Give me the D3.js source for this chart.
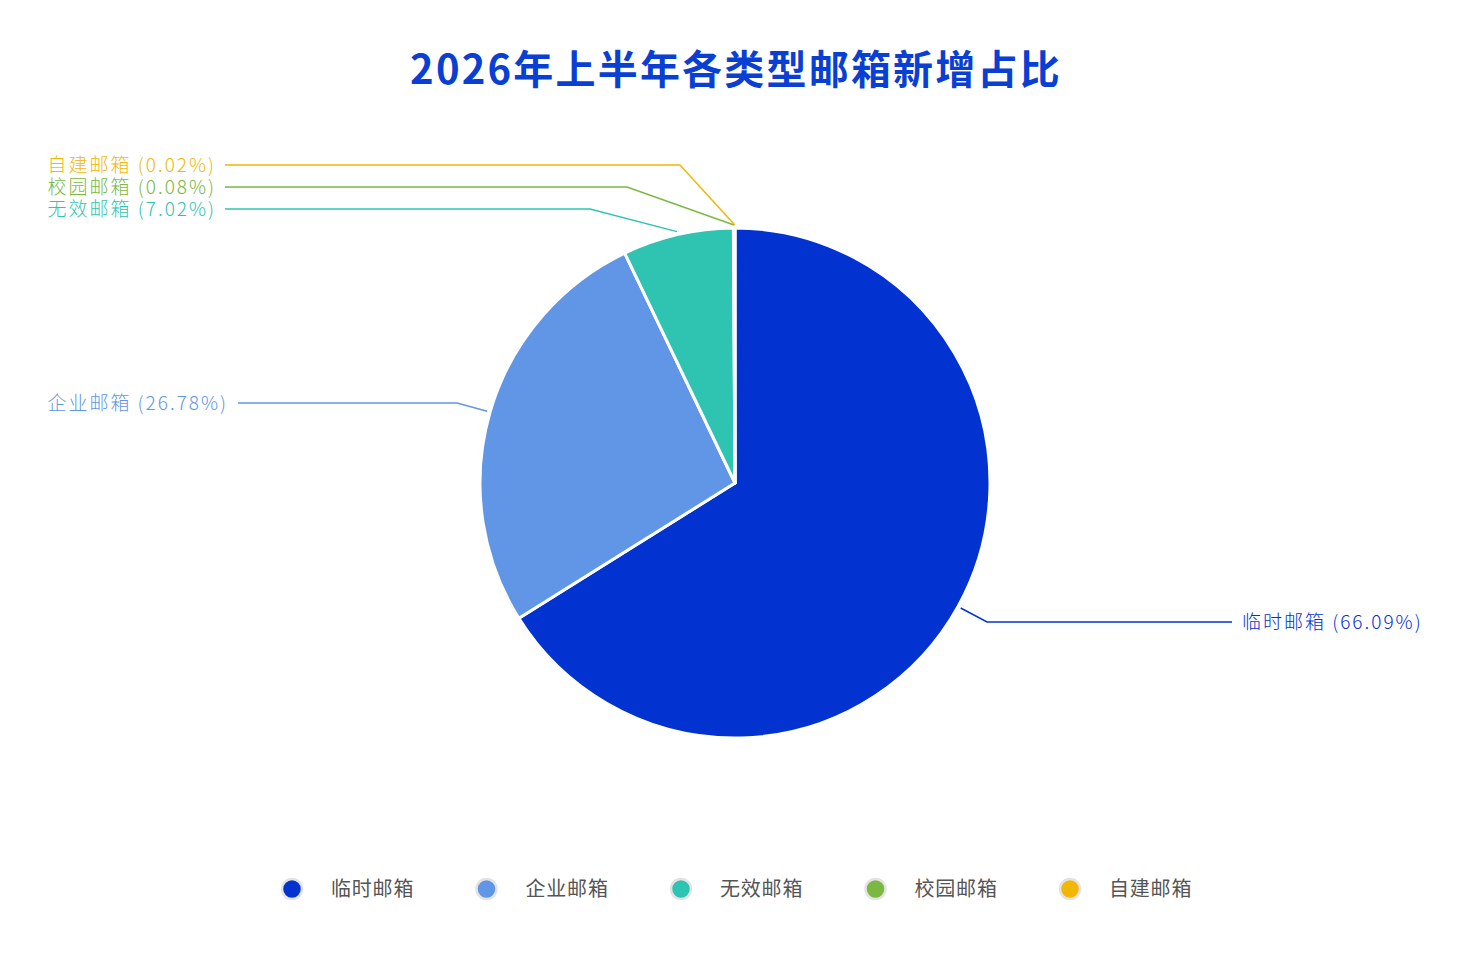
<!DOCTYPE html>
<html><head><meta charset="utf-8">
<script src="https://cdn.jsdelivr.net/npm/d3@7"></script>
<style>body{margin:0;background:#fff;font-family:"Noto Sans CJK SC","Noto Sans",sans-serif}</style>
</head><body><svg id="c" width="1470" height="962"></svg>
<script>
const categories=["临时邮箱","企业邮箱","无效邮箱","校园邮箱","自建邮箱"];
const values=[66.09,26.78,7.02,0.08,0.02];
const colors=["#0233d1","#6196e6","#2fc3b1","#79b841","#f2b705"];
const title="2026年上半年各类型邮箱新增占比";
// label layout: [labelY, elbowX, side]
const labelLayout=[[622,987,"r"],[403,457,"l"],[209,590,"l"],[187,627,"l"],[165,680,"l"]];

const svg=d3.select("#c");
const cx=735,cy=483,R=255;
svg.append("text").attr("x",736).attr("y",84).attr("text-anchor","middle")
 .attr("font-size",40).attr("font-weight",700).attr("letter-spacing",2.2).attr("fill","#0a3fd4").text(title);
const pie=d3.pie().sort(null).value(d=>d)(values);
const arc=d3.arc().innerRadius(0).outerRadius(R);
const g=svg.append("g").attr("transform",`translate(${cx},${cy})`);
g.selectAll("path").data(pie).join("path").attr("d",arc)
 .attr("fill",(d,i)=>colors[i]).attr("stroke","#fff").attr("stroke-width",3).attr("stroke-linejoin","round");
pie.forEach((d,i)=>{
  const a=(d.startAngle+d.endAngle)/2;
  const sx=cx+Math.sin(a)*(R+3), sy=cy-Math.cos(a)*(R+3);
  const [ly,ex,side]=labelLayout[i];
  const endX=side==="r"?1232:(i==1?238:225);
  svg.append("polyline").attr("points",`${sx},${sy} ${ex},${ly} ${endX},${ly}`)
   .attr("fill","none").attr("stroke",colors[i]).attr("stroke-width",1.5);
  svg.append("text").attr("x",side==="r"?1242:(i==1?228:216)).attr("y",ly+7)
   .attr("text-anchor",side==="r"?"start":"end").attr("font-size",19).attr("font-weight",300)
   .attr("letter-spacing",2).attr("fill",colors[i])
   .text(`${categories[i]} (${values[i].toFixed(2)}%)`);
});
const lg=svg.append("g");
categories.forEach((c,i)=>{
  const x=292+i*194.5;
  lg.append("circle").attr("cx",x).attr("cy",889).attr("r",10).attr("fill",colors[i]).attr("stroke","#e3e3e3").attr("stroke-width",2.5);
  lg.append("text").attr("x",x+39).attr("y",896).attr("font-size",20).attr("letter-spacing",0.8).attr("fill","#555").text(c);
});
</script></body></html>
